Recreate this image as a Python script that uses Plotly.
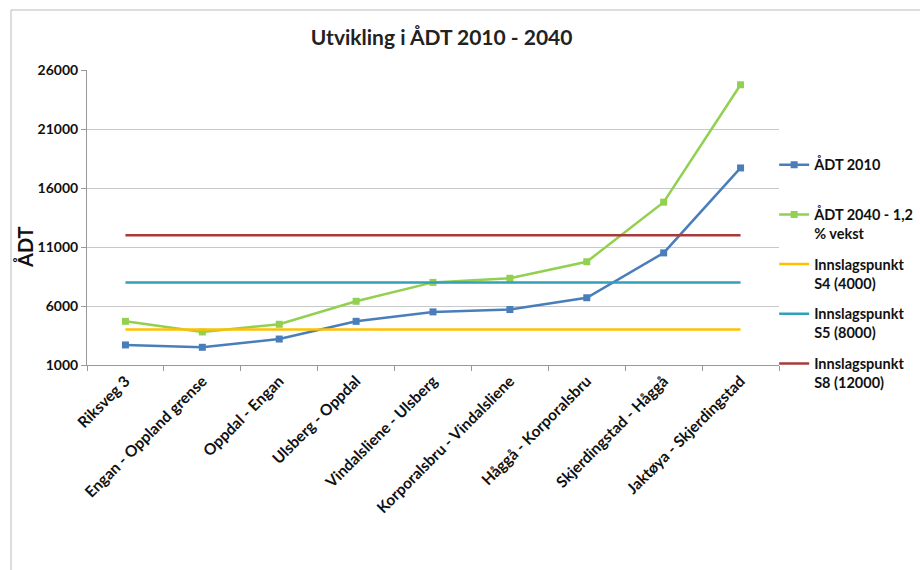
import plotly.graph_objects as go

categories = ["Riksveg 3", "Engan - Oppland grense", "Oppdal - Engan", "Ulsberg - Oppdal",
              "Vindalsliene - Ulsberg", "Korporalsbru - Vindalsliene", "Håggå - Korporalsbru",
              "Skjerdingstad - Håggå", "Jaktøya - Skjerdingstad"]
adt_2010 = [2700, 2500, 3200, 4700, 5500, 5700, 6700, 10500, 17700]
adt_2040 = [4700, 3800, 4450, 6400, 8000, 8350, 9750, 14800, 24750]
s4 = [4000] * 9
s5 = [8000] * 9
s8 = [12000] * 9
series_names = ["ÅDT 2010<br> ", "ÅDT 2040 - 1,2<br>% vekst", "Innslagspunkt<br>S4 (4000)",
                "Innslagspunkt<br>S5 (8000)", "Innslagspunkt<br>S8 (12000)"]

FONT = "Lato"
fig = go.Figure()
fig.add_trace(go.Scatter(x=categories, y=adt_2010, name="<b>" + series_names[0] + "</b>", mode="lines+markers",
                         line=dict(color="#4A7EBB", width=2.5),
                         marker=dict(symbol="square", size=7, color="#4A7EBB"), legendgroup="a"))
fig.add_trace(go.Scatter(x=categories, y=adt_2040, name="<b>" + series_names[1] + "</b>", mode="lines+markers",
                         line=dict(color="#92D050", width=2.5),
                         marker=dict(symbol="square", size=7, color="#92D050"), legendgroup="b"))
fig.add_trace(go.Scatter(x=categories, y=s4, name="<b>" + series_names[2] + "</b>", mode="lines",
                         line=dict(color="#FFC000", width=2.5), legendgroup="c"))
fig.add_trace(go.Scatter(x=categories, y=s5, name="<b>" + series_names[3] + "</b>", mode="lines",
                         line=dict(color="#31A0B8", width=2.5), legendgroup="d"))
fig.add_trace(go.Scatter(x=categories, y=s8, name="<b>" + series_names[4] + "</b>", mode="lines",
                         line=dict(color="#A83A3A", width=2.5), legendgroup="e"))

fig.update_layout(
    width=920, height=570,
    margin=dict(l=87, r=141, t=70, b=205, autoexpand=False),
    paper_bgcolor="white", plot_bgcolor="white",
    font=dict(family=FONT, size=15, color="#111"),
    title=dict(text="<b>Utvikling i ÅDT 2010 - 2040</b>", x=0.48, xanchor="center",
               y=1 - 38 / 570, yanchor="middle", font=dict(size=21, color="#222", family=FONT)),
    showlegend=True,
    legend=dict(x=0.993, xanchor="left", y=0.733, yanchor="top", tracegroupgap=9, valign="top",
                font=dict(size=14.5, family=FONT, color="#111"), itemwidth=30,
                bgcolor="rgba(0,0,0,0)"),
    shapes=[dict(type="rect", xref="paper", yref="paper",
                 x0=-76 / 692, x1=1000 / 692, y0=-300 / 295, y1=(365 - 10) / 295,
                 line=dict(color="#BBBBBB", width=1), fillcolor="rgba(0,0,0,0)", layer="below")],
    annotations=[dict(text="<b>ÅDT</b>", textangle=-90, xref="paper", yref="paper",
                      x=-62 / 692, y=(365 - 247) / 295, xanchor="center", yanchor="middle",
                      showarrow=False, font=dict(size=20, family=FONT, color="#111"))],
)
fig.update_xaxes(type="category", range=[-0.5, 8.5], tickson="boundaries", ticks="outside",
                 ticklen=5, tickcolor="#999", showline=True, linecolor="#999", linewidth=1,
                 showgrid=False, tickangle=-45, tickfont=dict(size=15.5, family=FONT, color="#111"),
                 tickprefix="<b>", ticksuffix="</b>")
fig.update_yaxes(range=[1000, 26000], tick0=1000, dtick=5000, tickformat="d", ticks="outside", ticklen=5,
                 tickcolor="#999", showline=True, linecolor="#999", linewidth=1,
                 showgrid=True, gridcolor="#C8C8C8", gridwidth=1, zeroline=False,
                 tickfont=dict(size=14, family=FONT, color="#111"),
                 tickprefix="<b>", ticksuffix="</b>")

fig.write_html("out.html")
